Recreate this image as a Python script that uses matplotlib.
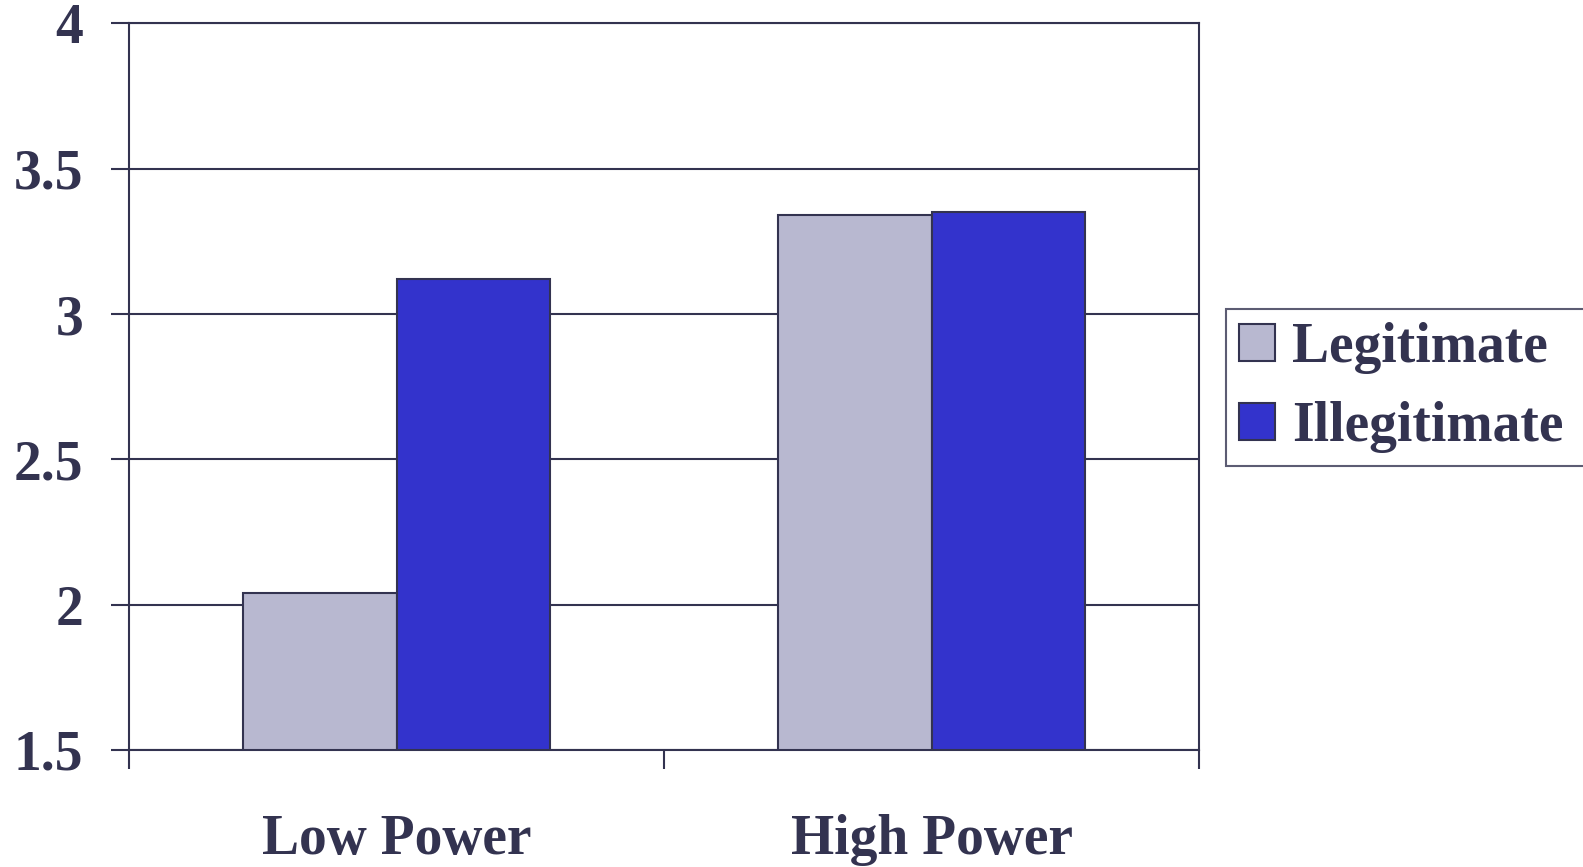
import matplotlib
matplotlib.use("Agg")
import matplotlib.pyplot as plt
import numpy as np

categories = ["Low Power", "High Power"]
series_names = ["Legitimate", "Illegitimate"]
legitimate = [2.04, 3.34]
illegitimate = [3.12, 3.35]
y_ticks = [1.5, 2, 2.5, 3, 3.5, 4]
y_tick_labels = ["1.5", "2", "2.5", "3", "3.5", "4"]

ink = "#333350"
colors = ["#B8B8D0", "#3333CC"]

plt.rcParams["font.family"] = ["Liberation Serif", "DejaVu Serif"]
plt.rcParams["font.weight"] = "bold"

fig = plt.figure(figsize=(15.83, 8.67), dpi=100)
ax = fig.add_axes([0.0815, 0.135, 0.676, 0.838])

x = np.arange(len(categories))
width = 0.287
for i, (vals, name) in enumerate(zip([legitimate, illegitimate], series_names)):
    ax.bar(x + (i - 0.5) * width, np.array(vals) - 1.5, width, bottom=1.5,
           color=colors[i], edgecolor=ink, linewidth=1.5, label=name, zorder=3)

ax.set_ylim(1.5, 4)
ax.set_xlim(-0.5, 1.5)
ax.set_yticks(y_ticks)
ax.set_yticklabels(y_tick_labels)
ax.yaxis.grid(True, color=ink, linewidth=1.5, zorder=0)
ax.tick_params(axis="y", length=13, width=1.5, color=ink, pad=20,
               labelsize=40, labelcolor=ink)

ax.set_xticks([-0.5, 0.5, 1.5])
ax.set_xticklabels([])
ax.set_xticks(x, minor=True)
ax.set_xticklabels(categories, minor=True)
ax.tick_params(axis="x", which="major", length=14, width=1.5, color=ink)
ax.tick_params(axis="x", which="minor", length=0, pad=46, labelsize=40,
               labelcolor=ink)

for sp in ax.spines.values():
    sp.set_color(ink)
    sp.set_linewidth(1.5)

# frame runs off the right edge, as in the original slide
leg = fig.legend(loc="upper left", bbox_to_anchor=(0.7745, 0, 0.24, 0.6436),
                 mode="expand", borderaxespad=0, fancybox=False, fontsize=40,
                 handlelength=0.65, handleheight=0.65, handletextpad=0.3,
                 labelspacing=0.48, borderpad=0.24, labelcolor=ink)
leg.get_frame().set_edgecolor(ink)
leg.get_frame().set_linewidth(1.5)

fig.savefig("out.png", dpi=100)
plt.close(fig)
